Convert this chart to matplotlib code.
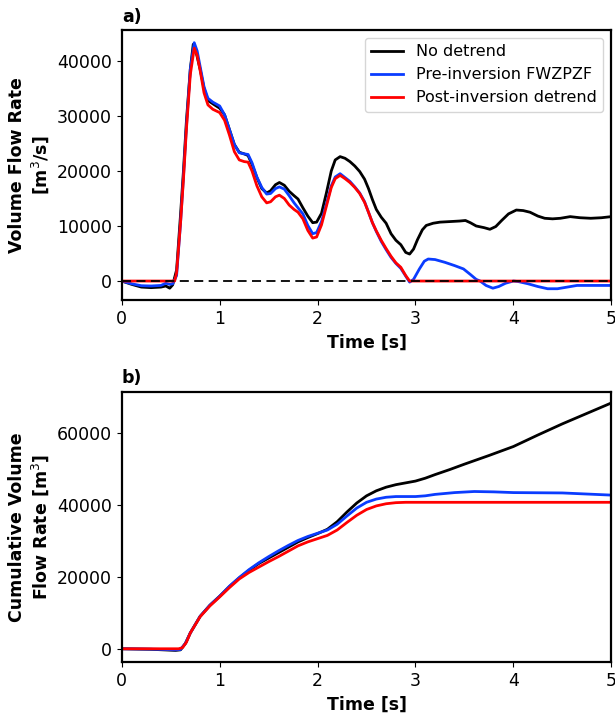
import numpy as np
import matplotlib
matplotlib.use("Agg")
import matplotlib.pyplot as plt

# ── Panel a: volume flow rate [m^3/s] ─────────────────────
t_black = [0.00, 0.10, 0.20, 0.30, 0.40, 0.45, 0.49, 0.52, 0.56, 0.60, 0.63, 0.66, 0.70, 0.73,
           0.76, 0.80, 0.84, 0.88, 0.93, 1.00, 1.05, 1.10, 1.15, 1.20, 1.25, 1.29, 1.33, 1.38,
           1.43, 1.48, 1.52, 1.57, 1.61, 1.66, 1.71, 1.76, 1.80, 1.85, 1.90, 1.95, 1.99, 2.04,
           2.09, 2.14, 2.18, 2.23, 2.28, 2.33, 2.38, 2.43, 2.48, 2.52, 2.56, 2.60, 2.65, 2.70,
           2.75, 2.80, 2.85, 2.90, 2.94, 2.98, 3.02, 3.07, 3.11, 3.18, 3.25, 3.35, 3.45, 3.51,
           3.56, 3.62, 3.70, 3.76, 3.82, 3.88, 3.95, 4.03, 4.10, 4.17, 4.25, 4.32, 4.40, 4.48,
           4.58, 4.68, 4.79, 4.90, 5.00]
q_black = [0, -600, -1100, -1200, -1100, -900, -1300, -700, 2000, 12000, 20000, 29000, 38500, 43000,
           41500, 38500, 35000, 32800, 32200, 31400, 30200, 27500, 24800, 23400, 23100, 22800, 21200, 18800,
           16800, 16000, 16400, 17500, 17900, 17400, 16300, 15500, 14900, 13300, 11800, 10600, 10700, 12300,
           16000, 20000, 22000, 22600, 22300, 21700, 20900, 19900, 18500, 16800, 14800, 13000, 11600, 10500,
           8600, 7400, 6600, 5200, 4900, 5800, 7500, 9300, 10100, 10500, 10700, 10800, 10900, 11000,
           10600, 10000, 9700, 9400, 9900, 11000, 12200, 12900, 12800, 12500, 11800, 11400, 11300, 11400,
           11700, 11500, 11400, 11500, 11700]

t_blue = [0.00, 0.10, 0.20, 0.30, 0.40, 0.45, 0.49, 0.52, 0.56, 0.60, 0.63, 0.66, 0.70, 0.74,
          0.77, 0.80, 0.84, 0.88, 0.93, 1.00, 1.05, 1.10, 1.15, 1.20, 1.25, 1.29, 1.33, 1.38,
          1.43, 1.48, 1.52, 1.57, 1.61, 1.66, 1.71, 1.76, 1.80, 1.85, 1.90, 1.95, 1.99, 2.04,
          2.09, 2.14, 2.18, 2.23, 2.28, 2.33, 2.38, 2.43, 2.48, 2.52, 2.56, 2.60, 2.65, 2.70,
          2.75, 2.80, 2.85, 2.90, 2.94, 2.98, 3.04, 3.09, 3.13, 3.20, 3.30, 3.40, 3.49, 3.56,
          3.62, 3.66, 3.72, 3.79, 3.85, 3.92, 4.00, 4.05, 4.15, 4.25, 4.35, 4.45, 4.55, 4.65,
          4.80, 5.00]
q_blue = [0, -500, -850, -900, -800, -400, -600, -500, 1000, 10500, 19000, 28000, 38500, 43300,
          41800, 39000, 35300, 33200, 32500, 31800, 30200, 27500, 24800, 23300, 23100, 23000, 21500, 18900,
          17000, 15800, 15900, 16800, 17100, 16700, 15500, 14200, 13300, 12200, 10100, 8600, 8800, 10800,
          14000, 17300, 18900, 19500, 18800, 18100, 17100, 16000, 14400, 12500, 10600, 9000, 7200, 5700,
          4300, 3200, 2300, 900, -200, 300, 2200, 3600, 4000, 3900, 3400, 2800, 2200, 1200,
          300, 0, -800, -1300, -1000, -400, 0, -100, -500, -1000, -1400, -1400, -1100, -800,
          -800, -800]

t_red = [0.00, 0.52, 0.54, 0.56, 0.60, 0.63, 0.66, 0.70, 0.74, 0.77, 0.80, 0.84, 0.88, 0.93,
         1.00, 1.05, 1.10, 1.15, 1.20, 1.25, 1.29, 1.33, 1.38, 1.43, 1.48, 1.52, 1.57, 1.61,
         1.66, 1.71, 1.76, 1.80, 1.85, 1.90, 1.95, 1.99, 2.04, 2.09, 2.14, 2.18, 2.23, 2.28,
         2.33, 2.38, 2.43, 2.48, 2.52, 2.56, 2.60, 2.65, 2.70, 2.75, 2.80, 2.85, 2.90, 2.94, 5.00]
q_red = [0, 0, 0, 1500, 10500, 18500, 27500, 37500, 42300, 41000, 38300, 34200, 32000, 31200,
         30600, 29200, 26500, 23500, 22000, 21700, 21600, 20000, 17300, 15300, 14200, 14400, 15300, 15600,
         15000, 13800, 13000, 12500, 11300, 9200, 7800, 8000, 10200, 13600, 17000, 18600, 19200, 18600,
         17900, 17000, 15900, 14300, 12500, 10600, 9100, 7400, 5900, 4500, 3300, 2500, 1000, 0, 0]

# ── Panel b: cumulative volume [m^3] ──────────────────────
tc_black = [0.0, 0.3, 0.55, 0.60, 0.65, 0.70, 0.80, 0.90, 1.0, 1.1, 1.2, 1.3, 1.4, 1.5, 1.6, 1.7, 1.8,
            1.9, 2.0, 2.1, 2.2, 2.3, 2.4, 2.5, 2.6, 2.7, 2.8, 2.9, 3.0, 3.1, 3.2, 3.35, 3.5, 3.75,
            4.0, 4.25, 4.5, 4.75, 5.0]
vc_black = [0, -150, -450, -300, 1500, 4400, 9000, 12100, 14600, 17300, 19700, 21800, 23700, 25200, 26700, 28200, 29700,
            30900, 32000, 33200, 35300, 38000, 40500, 42500, 43900, 44900, 45600, 46100, 46600, 47400, 48400, 49800, 51300, 53700,
            56200, 59400, 62500, 65400, 68300]

tc_blue = [0.0, 0.3, 0.55, 0.60, 0.65, 0.70, 0.80, 0.90, 1.0, 1.1, 1.2, 1.3, 1.4, 1.5, 1.6, 1.7, 1.8,
           1.9, 2.0, 2.1, 2.2, 2.3, 2.4, 2.5, 2.6, 2.7, 2.8, 2.9, 3.0, 3.1, 3.2, 3.4, 3.6, 3.8,
           4.0, 4.5, 5.0]
vc_blue = [0, -100, -300, -200, 1500, 4400, 9000, 12100, 14600, 17400, 19800, 22000, 23900, 25600, 27200, 28700, 30100,
           31200, 32100, 33000, 34600, 36900, 39100, 40700, 41600, 42100, 42300, 42300, 42300, 42500, 42900, 43400, 43700, 43600,
           43400, 43300, 42700]

tc_red = [0.0, 0.58, 0.62, 0.66, 0.70, 0.80, 0.90, 1.0, 1.1, 1.2, 1.3, 1.4, 1.5, 1.6, 1.7, 1.8,
          1.9, 2.0, 2.1, 2.2, 2.3, 2.4, 2.5, 2.6, 2.7, 2.8, 2.9, 3.0, 5.0]
vc_red = [0, 0, 300, 1800, 4400, 8900, 11900, 14400, 17000, 19400, 21200, 22700, 24200, 25600, 27100, 28600,
          29700, 30600, 31500, 33000, 35100, 37100, 38700, 39700, 40300, 40600, 40700, 40700, 40700]

labels = ["No detrend", "Pre-inversion FWZPZF", "Post-inversion detrend"]
colors = ["black", "#0a3cff", "#ff0000"]

plt.rcParams["font.size"] = 12.5
plt.rcParams["axes.linewidth"] = 1.6

fig = plt.figure(figsize=(6.15, 7.15), dpi=100)
ax1 = fig.add_axes([0.198, 0.580, 0.796, 0.378])
ax2 = fig.add_axes([0.198, 0.074, 0.796, 0.378])

# ── Top: flow rate ──
ax1.plot(t_black, q_black, color=colors[0], lw=2, label=labels[0])
ax1.plot(t_blue, q_blue, color=colors[1], lw=2, label=labels[1])
ax1.plot(t_red, q_red, color=colors[2], lw=2, label=labels[2])
ax1.axhline(0, color="black", ls="--", lw=1.3, dashes=(5, 3))
ax1.set_xlim(0, 5)
ax1.set_ylim(-3500, 45600)
ax1.set_yticks([0, 10000, 20000, 30000, 40000])
ax1.set_xlabel("Time [s]", fontweight="bold")
ax1.set_ylabel("Volume Flow Rate\n[m$^3$/s]", fontweight="bold")
ax1.set_title("a)", loc="left", fontweight="bold", fontsize=12.5)
ax1.legend(loc="upper right", fontsize=11.5, handlelength=2.0)

# ── Bottom: cumulative volume ──
ax2.plot(tc_black, vc_black, color=colors[0], lw=2)
ax2.plot(tc_blue, vc_blue, color=colors[1], lw=2)
ax2.plot(tc_red, vc_red, color=colors[2], lw=2)
ax2.set_xlim(0, 5)
ax2.set_ylim(-3700, 71400)
ax2.set_yticks([0, 20000, 40000, 60000])
ax2.set_xlabel("Time [s]", fontweight="bold")
ax2.set_ylabel("Cumulative Volume\nFlow Rate [m$^3$]", fontweight="bold")
ax2.set_title("b)", loc="left", fontweight="bold", fontsize=12.5)

fig.savefig("out.png", dpi=100)
